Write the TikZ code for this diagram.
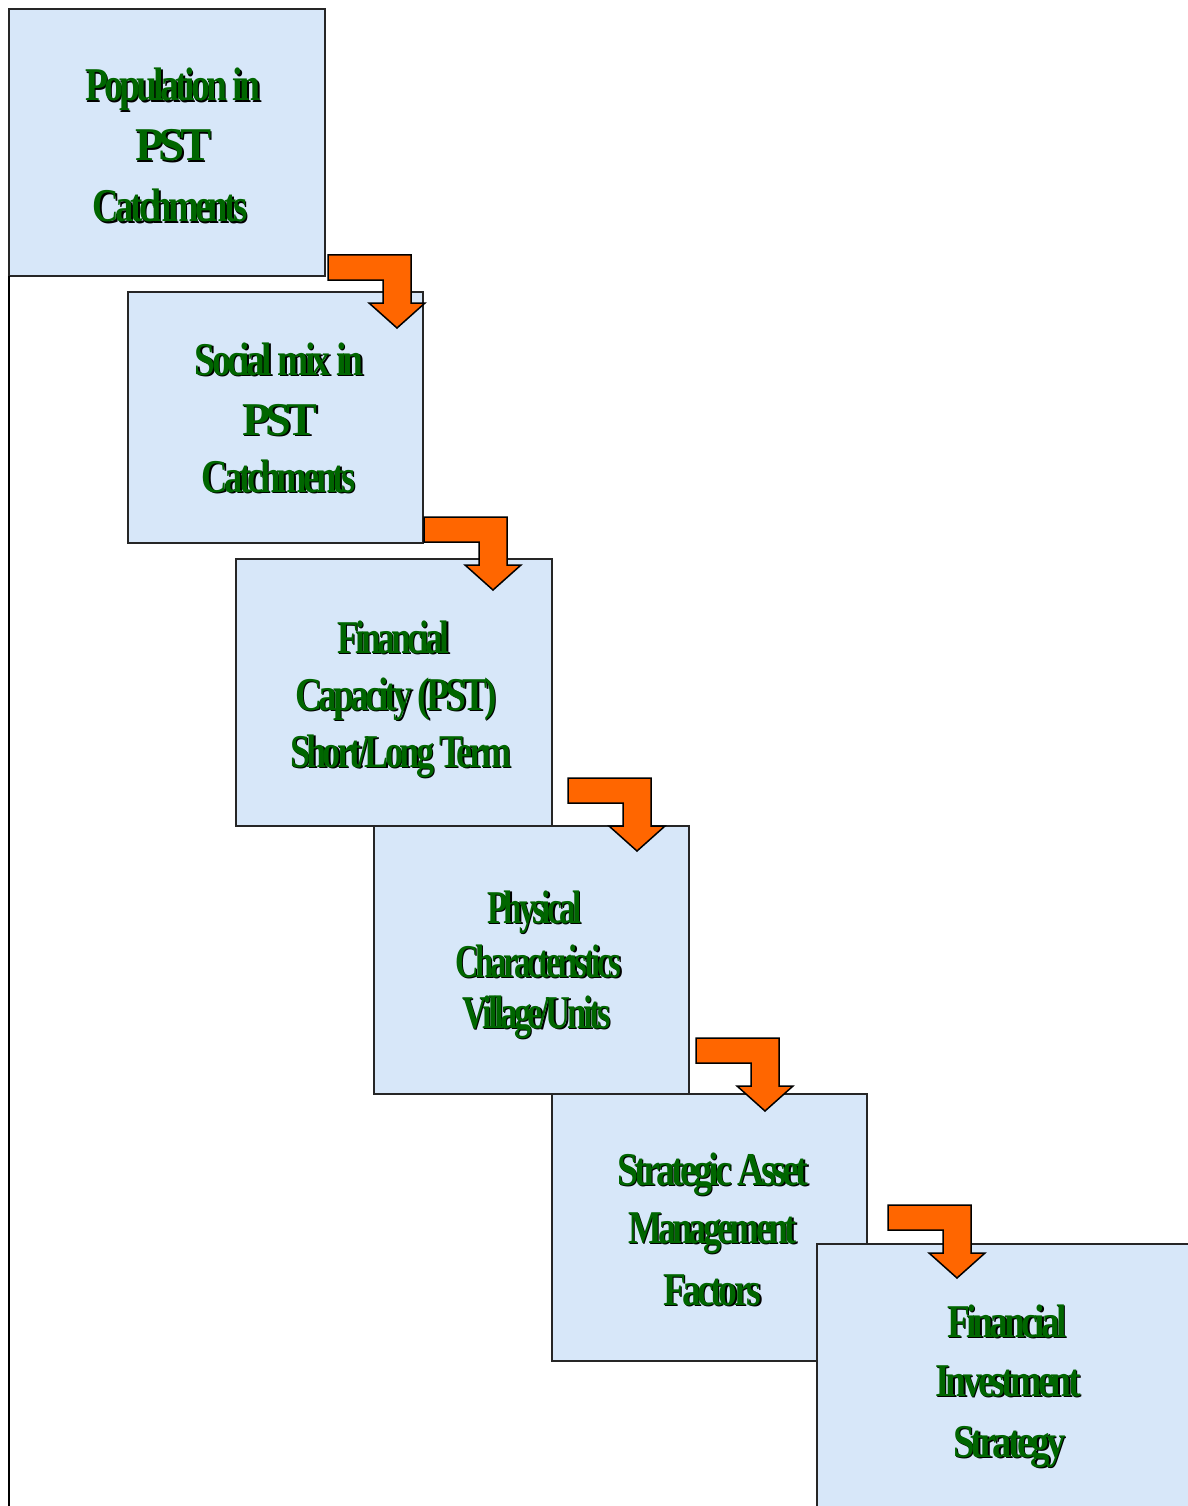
\documentclass[tikz,border=0pt]{standalone}
\usepackage{fontspec}
\usepackage{graphicx}
\newfontfamily\tfont[LetterSpace=-10]{Liberation Serif}
\definecolor{boxfill}{RGB}{215,231,249}
\definecolor{tgreen}{RGB}{0,102,0}
\definecolor{arrowc}{RGB}{255,102,0}
\tikzset{
  txt/.style={anchor=base, inner sep=0pt, font=\tfont\bfseries\fontsize{47}{47}\selectfont},
  box/.style={draw=black!85, line width=1.5pt, fill=boxfill, rectangle, inner sep=0pt, outer sep=0pt},
  arr/.style={fill=arrowc, draw=black, line width=1.5pt, line join=miter},
}
\newcommand\tline[5]{%
  \node[txt, text=black] (#1s) at (#2+1.5,#3+1.5) {\resizebox{#4pt}{\height}{#5}};
  \node[txt, text=tgreen] (#1) at (#2,#3) {\resizebox{#4pt}{\height}{#5}};
}
\newcommand\barrow[2]{%
  \draw[arr] (#1,#2) -- ++(83,0) -- ++(0,48) -- ++(14,0) -- ++(-28,25) -- ++(-28,-25) -- ++(14,0) -- ++(0,-23) -- ++(-55,0) -- cycle;
}
\begin{document}
\begin{tikzpicture}[x=1pt,y=-1pt]
\fill[white] (0,0) rectangle (1187,1506);
\useasboundingbox (0,0) rectangle (1187,1506);
% boxes
\node[box, minimum width=316pt, minimum height=267pt] (b1) at (167,142.5) {};
\node[box, minimum width=295pt, minimum height=251pt] (b2) at (275.5,417.5) {};
\node[box, minimum width=316pt, minimum height=267pt] (b3) at (394,692.5) {};
\node[box, minimum width=315pt, minimum height=268pt] (b4) at (531.5,960) {};
\node[box, minimum width=315pt, minimum height=267pt] (b5) at (709.5,1227.5) {};
\node[box, minimum width=375pt, minimum height=275pt] (b6) at (1004.5,1381.5) {};
% left line
\coordinate (lend) at (9,1510);
\draw[black, line width=2pt] (b1.south west) -- (lend);
% arrows
\barrow{328}{255}
\barrow{424}{517}
\barrow{568}{778}
\barrow{696}{1038}
\barrow{888}{1205}
% texts
\tline{t1a}{172.75}{101}{175.5}{Population in}
\tline{t1b}{173.25}{161}{76.5}{PST}
\tline{t1c}{170.25}{222}{154.5}{Catchments}
\tline{t2a}{279.25}{375}{168.5}{Social mix in}
\tline{t2b}{279.75}{435}{75.5}{PST}
\tline{t2c}{278.75}{492}{153.5}{Catchments}
\tline{t3a}{393.25}{653}{112.5}{Financial}
\tline{t3b}{395.75}{710}{201.5}{Capacity (PST)}
\tline{t3c}{400.75}{767}{221.5}{Short/Long Term}
\tline{t4a}{534.25}{923}{94.5}{Physical}
\tline{t4b}{538.25}{977}{166.5}{Characteristics}
\tline{t4c}{536.25}{1028}{148.5}{Village/Units}
\tline{t5a}{712.75}{1185}{191.5}{Strategic Asset}
\tline{t5b}{712.25}{1243}{168.5}{Management}
\tline{t5c}{712.25}{1305}{98.5}{Factors}
\tline{t6a}{1006.75}{1337}{119.5}{Financial}
\tline{t6b}{1007.75}{1396}{145.5}{Investment}
\tline{t6c}{1009.25}{1457}{112.5}{Strategy}
\end{tikzpicture}
\end{document}
